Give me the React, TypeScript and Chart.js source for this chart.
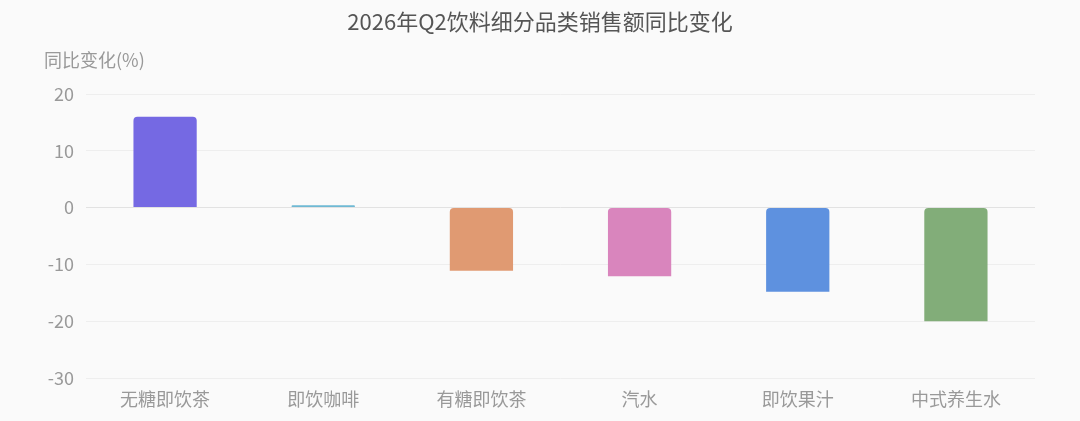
import React, { useEffect, useRef } from "react";
import { Chart, registerables } from "chart.js";

Chart.register(...registerables);

const categories = ["无糖即饮茶", "即饮咖啡", "有糖即饮茶", "汽水", "即饮果汁", "中式养生水"];
const yoyChange = [16.0, 0.4, -11.1, -12.1, -14.8, -20.0];
const barColors = ["#7569e3", "#6fb9d4", "#e09a72", "#d985bd", "#5e91df", "#82ad79"];
const titleText = "2026年Q2饮料细分品类销售额同比变化";
const yAxisTitle = "同比变化(%)";
const yMin = -30;
const yMax = 20;
const yStep = 10;

const FONT = '"Noto Sans CJK SC", "Noto Sans", sans-serif';

export default function App() {
  const ref = useRef<HTMLCanvasElement | null>(null);

  useEffect(() => {
    document.body.style.margin = "0";
    const canvas = ref.current;
    if (!canvas) return;

    const decor = {
      id: "decor",
      beforeDraw(chart: any) {
        const ctx = chart.ctx;
        ctx.save();
        ctx.fillStyle = "#fafafa";
        ctx.fillRect(0, 0, chart.width, chart.height);
        ctx.restore();
      },
      afterDraw(chart: any) {
        const ctx = chart.ctx;
        ctx.save();
        ctx.fillStyle = "#555555";
        ctx.font = `22px ${FONT}`;
        ctx.textAlign = "center";
        ctx.textBaseline = "middle";
        ctx.fillText(titleText, chart.width / 2, 22);
        ctx.fillStyle = "#999999";
        ctx.font = `18px ${FONT}`;
        ctx.textAlign = "left";
        ctx.fillText(yAxisTitle, 44, 60);
        ctx.restore();
      },
    };

    const chart = new Chart(canvas, {
      type: "bar",
      data: {
        labels: categories,
        datasets: [
          {
            data: yoyChange,
            backgroundColor: barColors,
            borderWidth: 0,
            borderRadius: { topLeft: 4, topRight: 4, bottomLeft: 0, bottomRight: 0 },
            borderSkipped: false,
            barPercentage: 0.4,
            categoryPercentage: 1,
          },
        ],
      },
      options: {
        responsive: false,
        animation: false,
        maintainAspectRatio: false,
        layout: { padding: { top: 94, right: 45, left: 0, bottom: 0 } },
        plugins: {
          legend: { display: false },
          title: { display: false },
          tooltip: { enabled: false },
        },
        scales: {
          x: {
            grid: { display: false, drawTicks: false },
            border: { display: false },
            ticks: {
              color: "#999999",
              font: { family: FONT, size: 18 },
              padding: 10,
              maxRotation: 0,
            },
            afterFit(scale: any) {
              scale.height = 43;
            },
          },
          y: {
            min: yMin,
            max: yMax,
            grid: {
              drawTicks: false,
              color: (c: any) => (c.tick && c.tick.value === 0 ? "#e2e2e2" : "#eeeeee"),
              lineWidth: 1,
            },
            border: { display: false },
            ticks: {
              stepSize: yStep,
              color: "#999999",
              font: { family: FONT, size: 18 },
              padding: 12,
            },
            afterFit(scale: any) {
              scale.width = 86;
            },
          },
        },
      },
      plugins: [decor],
    });

    return () => chart.destroy();
  }, []);

  return (
    <div style={{ width: 1080, height: 421 }}>
      <canvas ref={ref} width={1080} height={421} style={{ display: "block", width: 1080, height: 421 }} />
    </div>
  );
}
